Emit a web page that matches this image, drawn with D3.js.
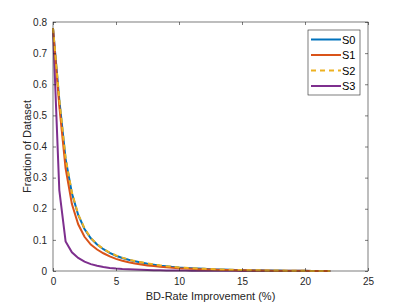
<!DOCTYPE html>
<html>
<head>
<meta charset="utf-8">
<script src="https://cdn.jsdelivr.net/npm/d3@7"></script>
<style>
  body { margin: 0; background: #fff; }
  svg text { font-family: "Liberation Sans", Arial, sans-serif; }
</style>
</head>
<body>
<svg id="chart" width="407" height="305"></svg>
<script>
// x positions (BD-rate improvement, %)
var xs = d3.range(0, 22.01, 0.5);

var s0 = [0.78, 0.55, 0.36, 0.25, 0.18, 0.135, 0.105, 0.085, 0.07, 0.058, 0.049, 0.042, 0.036, 0.031, 0.027, 0.023,
          0.020, 0.017, 0.015, 0.013, 0.011, 0.010, 0.009, 0.008, 0.007, 0.006, 0.005, 0.0045, 0.004, 0.0035, 0.003,
          0.0027, 0.0024, 0.0021, 0.0018, 0.0015, 0.0013, 0.0011, 0.0009, 0.0007, 0.0005, 0.0004, 0.0003, 0.0002, 0.0001];
var s1 = [0.78, 0.53, 0.33, 0.215, 0.15, 0.11, 0.085, 0.069, 0.057, 0.047, 0.039, 0.033, 0.028, 0.024, 0.021, 0.018,
          0.016, 0.014, 0.012, 0.0105, 0.009, 0.008, 0.007, 0.006, 0.0053, 0.0047, 0.004, 0.0035, 0.003, 0.0027, 0.0024,
          0.0021, 0.0018, 0.0015, 0.0013, 0.0011, 0.0009, 0.0008, 0.0007, 0.0006, 0.0005, 0.0004, 0.0003, 0.0002, 0.0001];
var s2 = [0.78, 0.552, 0.362, 0.252, 0.182, 0.137, 0.106, 0.086, 0.071, 0.059, 0.05, 0.043, 0.037, 0.032, 0.028, 0.024,
          0.021, 0.018, 0.0155, 0.0135, 0.0115, 0.0103, 0.0093, 0.0082, 0.0072, 0.0062, 0.0052, 0.0046, 0.004, 0.0035, 0.003,
          0.0027, 0.0024, 0.0021, 0.0018, 0.0015, 0.0013, 0.0011, 0.0009, 0.0007, 0.0005, 0.0004, 0.0003, 0.0002, 0.0001];
var s3 = [0.78, 0.26, 0.095, 0.06, 0.042, 0.03, 0.022, 0.017, 0.013, 0.01, 0.008, 0.0065, 0.0055, 0.0045, 0.0038, 0.0032,
          0.0027, 0.0023, 0.002, 0.0017, 0.0015, 0.0013, 0.0011, 0.001, 0.0009, 0.0008, 0.0007, 0.0006, 0.0005, 0.0005, 0.0004,
          0.0004, 0.0003, 0.0003, 0.0003, 0.0002, 0.0002, 0.0002, 0.0001, 0.0001, 0.0001, 0.0001, 0.0001, 0.0, 0.0];

var seriesNames = ["S0", "S1", "S2", "S3"];
var seriesValues = [s0, s1, s2, s3];
var seriesColors = ["#0072BD", "#D95319", "#EDB120", "#7E2F8E"];
var seriesDash = [null, null, "5,4", null];

var xTicks = [0, 5, 10, 15, 20, 25];
var yTicks = [0, 0.1, 0.2, 0.3, 0.4, 0.5, 0.6, 0.7, 0.8];

var svg = d3.select("#chart");
var plotL = 53, plotR = 368, plotT = 22, plotB = 271;

var x = d3.scaleLinear().domain([0, 25]).range([plotL, plotR]);
var y = d3.scaleLinear().domain([0, 0.8]).range([plotB, plotT]);

var axisColor = "#262626";
var tickLen = 3;

function styleAxis(g){
    g.select(".domain").remove();
    g.selectAll("line").attr("stroke", axisColor).attr("stroke-width", 0.6);
    g.selectAll("text").attr("fill", axisColor).attr("font-size", "10px");
}

// curves
var line = d3.line().x((d, i) => x(xs[i])).y(d => y(d));
var order = [3, 0, 1, 2];
order.forEach(function(k){
    svg.append("path")
        .datum(seriesValues[k])
        .attr("fill", "none")
        .attr("stroke", seriesColors[k])
        .attr("stroke-width", 2)
        .attr("stroke-dasharray", seriesDash[k])
        .attr("d", line);
});

// axes (ticks inside, box on)
svg.append("g").attr("transform", "translate(0," + plotB + ")")
    .call(d3.axisBottom(x).tickValues(xTicks).tickSizeInner(-tickLen).tickSizeOuter(0).tickPadding(7).tickFormat(d3.format("d")))
    .call(styleAxis);
svg.append("g").attr("transform", "translate(0," + plotT + ")")
    .call(d3.axisTop(x).tickValues(xTicks).tickSizeInner(-tickLen).tickSizeOuter(0).tickFormat(""))
    .call(styleAxis);
svg.append("g").attr("transform", "translate(" + plotL + ",0)")
    .call(d3.axisLeft(y).tickValues(yTicks).tickSizeInner(-tickLen).tickSizeOuter(0).tickPadding(6).tickFormat(d => d === 0 ? "0" : d3.format(".1f")(d)))
    .call(styleAxis);
svg.append("g").attr("transform", "translate(" + plotR + ",0)")
    .call(d3.axisRight(y).tickValues(yTicks).tickSizeInner(-tickLen).tickSizeOuter(0).tickFormat(""))
    .call(styleAxis);

svg.append("rect")
    .attr("x", plotL).attr("y", plotT)
    .attr("width", plotR - plotL).attr("height", plotB - plotT)
    .attr("fill", "none").attr("stroke", axisColor).attr("stroke-width", 0.6);

// axis labels
svg.append("text")
    .attr("x", (plotL + plotR) / 2).attr("y", 300)
    .attr("text-anchor", "middle").attr("font-size", "11px").attr("fill", axisColor)
    .text("BD-Rate Improvement (%)");
svg.append("text")
    .attr("transform", "translate(31," + ((plotT + plotB) / 2) + ") rotate(-90)")
    .attr("text-anchor", "middle").attr("font-size", "11px").attr("fill", axisColor)
    .text("Fraction of Dataset");

// legend
var lg = svg.append("g").attr("transform", "translate(308,30)");
lg.append("rect").attr("width", 52).attr("height", 65)
    .attr("fill", "#fff").attr("stroke", axisColor).attr("stroke-width", 0.6);
seriesNames.forEach(function(name, i){
    var yy = 9.5 + i * 15.5;
    lg.append("line").attr("x1", 3).attr("x2", 33).attr("y1", yy).attr("y2", yy)
        .attr("stroke", seriesColors[i]).attr("stroke-width", 2)
        .attr("stroke-dasharray", seriesDash[i]);
    lg.append("text").attr("x", 34).attr("y", yy + 4)
        .attr("font-size", "11px").attr("fill", "#000").text(name);
});
</script>
</body>
</html>
